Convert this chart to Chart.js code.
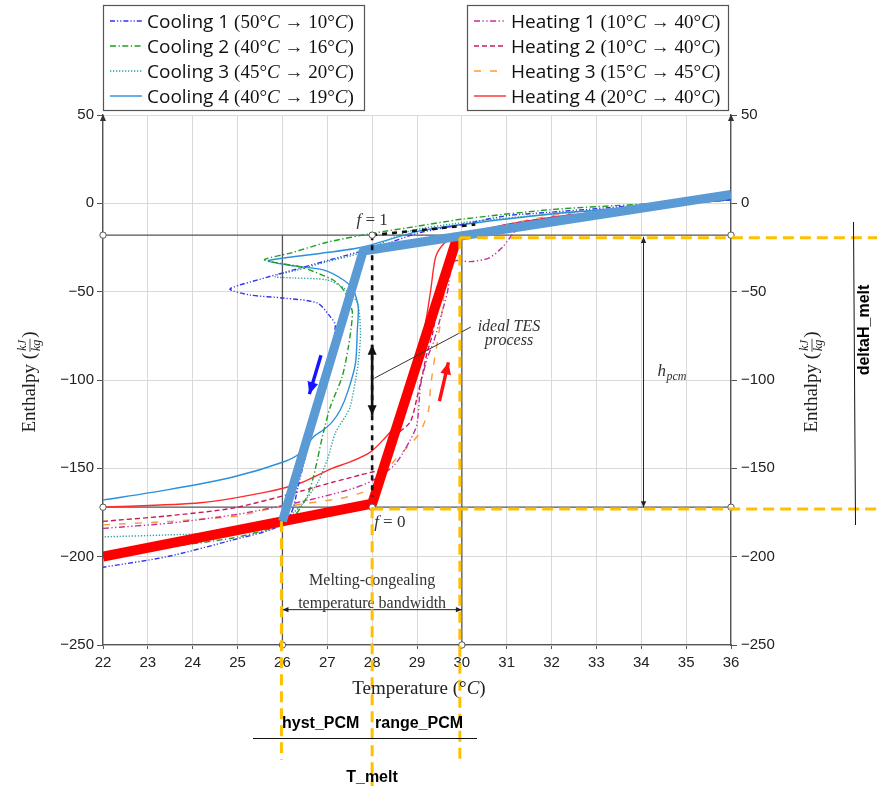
<!DOCTYPE html>
<html>
<head>
<meta charset="utf-8">
<script src="https://cdn.jsdelivr.net/npm/chart.js@4.4.1/dist/chart.umd.min.js"></script>
<style>
html, body { margin: 0; padding: 0; background: #fff; }
#wrap { width: 877px; height: 786px; }
</style>
</head>
<body>
<div id="wrap"><canvas id="chart"></canvas></div>
<script>
// axis ticks
const xTicks = [22, 23, 24, 25, 26, 27, 28, 29, 30, 31, 32, 33, 34, 35, 36];
const yTicks = [50, 0, -50, -100, -150, -200, -250];

// measured cooling runs (temperature, enthalpy)
const cooling1T = [36, 35, 34, 33, 32, 31, 30, 29, 28.2, 27.7, 26.4, 25.5, 24.83, 25.28, 26.02, 26.78, 27.07, 27.18, 27.0, 26.65, 26.35, 26.2, 25.84, 24.9, 23.43, 22];
const cooling1H = [2, 0.5, -1, -3, -5, -7, -12, -17, -24, -27.5, -36.6, -43, -48.5, -51.9, -53.6, -56.4, -64.3, -69, -100, -130, -160, -175, -183.7, -190.5, -200, -206];
const cooling2T = [36, 34, 32, 30, 29, 28, 27, 26.2, 25.6, 26.4, 27.13, 27.36, 27.47, 27.56, 27.47, 27.33, 27.07, 26.91, 26.69, 26.55, 26.3, 26.1, 25.8, 24.9, 23.43, 22];
const cooling2H = [2.5, -0.5, -3.5, -9, -13, -17, -22, -28, -32, -36, -43.4, -49, -54.7, -62, -81.3, -98.3, -115, -130, -155, -166, -176, -181, -183.7, -189.4, -194.5, -198];
const cooling3T = [36, 34, 32, 30, 28.8, 27.74, 27.0, 26.3, 25.88, 25.84, 26.24, 27.0, 27.36, 27.67, 27.74, 27.69, 27.63, 27.51, 27.42, 27.18, 27.0, 26.78, 26.46, 26.24, 25.95, 24.9, 23.43, 22];
const cooling3H = [2, -2, -6, -11, -16, -28, -33, -38, -40.5, -41.7, -42.2, -43.4, -47.9, -56.4, -73.4, -90.3, -100, -115.3, -119.8, -130, -145.2, -158.3, -169.6, -175.2, -180.3, -186, -187.7, -188.8];
const cooling4T = [36, 34, 32, 30, 29, 27.8, 26.8, 26.0, 25.68, 26.11, 26.91, 27.36, 27.58, 27.69, 27.67, 27.63, 27.47, 27.29, 27.1, 26.91, 26.69, 26.4, 26.02, 24.9, 23.43, 22];
const cooling4H = [2, -2, -6, -12, -16, -24.7, -28.5, -31, -32.6, -34.9, -37.7, -43.4, -49, -58.7, -71.7, -90.3, -105.6, -117, -124, -128.3, -132.2, -141.3, -146.4, -154.9, -162.2, -168];

// measured heating runs
const heating1T = [22, 23.5, 25, 26.4, 27.5, 28, 28.5, 28.85, 29.0, 29.08, 29.23, 29.37, 29.52, 29.68, 29.81, 30.2, 30.6, 30.9, 31.3, 32, 33, 34, 35, 36];
const heating1H = [-184, -181, -176, -169, -162, -157, -148, -134, -125, -103, -87.5, -78.5, -65, -50, -33, -33, -31, -25, -13, -8, -5, -2, 0, 2];
const heating2T = [22, 23.4, 24.9, 26.4, 27.1, 27.74, 28.3, 28.47, 28.85, 29.0, 29.12, 29.23, 29.34, 29.59, 29.75, 29.9, 30.5, 31, 32, 33, 34, 36];
const heating2H = [-180, -177, -172.5, -163, -158, -153.7, -149, -133, -123.7, -110, -97, -84, -74.5, -40.5, -27.5, -22, -16, -12, -8, -5, -2, 2];
const heating3T = [22, 23.5, 25, 25.7, 26.5, 27.3, 27.74, 28.0, 28.52, 29.03, 29.25, 29.3, 29.37, 29.48, 29.57, 29.63, 29.75, 29.86, 30.3, 31, 32, 33, 34, 36];
const heating3H = [-182, -180, -177, -173, -170, -167, -164, -161, -145, -131, -118, -104.5, -91.5, -74.5, -59.2, -44.5, -31, -23.6, -17, -12, -7, -4, -2, 2];
const heating4T = [22, 24.17, 25.66, 26.4, 27.13, 27.51, 27.96, 28.26, 28.47, 28.7, 28.92, 29.14, 29.3, 29.41, 29.57, 29.79, 29.97, 31, 32, 33, 34, 35, 36];
const heating4H = [-172, -169.5, -163.3, -158.3, -149.8, -146.4, -140.8, -133.5, -127.1, -114.1, -95.4, -74.5, -50.2, -30.9, -23.6, -19.6, -17.9, -12, -8, -5, -2, 0, 2];

// idealised model (thick lines)
const modelCoolT = [26, 27.8, 36];
const modelCoolH = [-180, -27, 5];
const modelHeatT = [22, 28, 29.9];
const modelHeatH = [-200, -170, -19];

// reference levels
const hTop = -18;      // f = 1
const hBot = -172;     // f = 0
const tHyst = 26, tMelt = 28, tRange = 30;

const pts = (T, H) => T.map((t, i) => ({ x: t, y: H[i] }));

const curves = [
  { label: 'Cooling 1', from: '50', to: '10', data: pts(cooling1T, cooling1H), color: '#3434ee', dash: [5, 2, 1.2, 2, 1.2, 2] },
  { label: 'Cooling 2', from: '40', to: '16', data: pts(cooling2T, cooling2H), color: '#1f9e1f', dash: [6, 2.5, 1.3, 2.5] },
  { label: 'Cooling 3', from: '45', to: '20', data: pts(cooling3T, cooling3H), color: '#2f9f9f', dash: [1.3, 1.7] },
  { label: 'Cooling 4', from: '40', to: '19', data: pts(cooling4T, cooling4H), color: '#2b90dc', dash: [] },
  { label: 'Heating 1', from: '10', to: '40', data: pts(heating1T, heating1H), color: '#c0309a', dash: [6, 2.5, 1.3, 2.5, 1.3, 2.5] },
  { label: 'Heating 2', from: '10', to: '40', data: pts(heating2T, heating2H), color: '#c81a58', dash: [5, 3] },
  { label: 'Heating 3', from: '15', to: '45', data: pts(heating3T, heating3H), color: '#ff9a38', dash: [7, 9] },
  { label: 'Heating 4', from: '20', to: '40', data: pts(heating4T, heating4H), color: '#ff2a2a', dash: [] }
];

const SERIF = '"Liberation Serif", serif';
const SANS = '"Liberation Sans", Arial, sans-serif';
const LEGSANS = '"Open Sans", sans-serif';

function drawRuns(ctx, x, y, parts) {
  parts.forEach(([t, f]) => { ctx.font = f; ctx.fillText(t, x, y); x += ctx.measureText(t).width; });
  return x;
}
function runsWidth(ctx, parts) {
  let w = 0;
  parts.forEach(([t, f]) => { ctx.font = f; w += ctx.measureText(t).width; });
  return w;
}
function seg(ctx, x1, y1, x2, y2) {
  ctx.beginPath(); ctx.moveTo(x1, y1); ctx.lineTo(x2, y2); ctx.stroke();
}
function tip(ctx, x1, y1, x2, y2, s, w) {
  const a = Math.atan2(y2 - y1, x2 - x1), c = Math.cos(a), n = Math.sin(a);
  w = w || s * 0.45;
  ctx.beginPath();
  ctx.moveTo(x2, y2);
  ctx.lineTo(x2 - s * c + w * n, y2 - s * n - w * c);
  ctx.lineTo(x2 - s * c - w * n, y2 - s * n + w * c);
  ctx.closePath(); ctx.fill();
}
function arrow(ctx, x1, y1, x2, y2, s, both) {
  seg(ctx, x1, y1, x2, y2);
  tip(ctx, x1, y1, x2, y2, s);
  if (both) tip(ctx, x2, y2, x1, y1, s);
}
function ring(ctx, x, y) {
  ctx.beginPath(); ctx.arc(x, y, 3.2, 0, Math.PI * 2); ctx.fillStyle = '#fff'; ctx.fill(); ctx.stroke();
}
function enthalpyTitle(ctx, cx, cy) {
  const main = '19px ' + SERIF, frac = 'italic 12px ' + SERIF;
  ctx.save();
  ctx.translate(cx, cy);
  ctx.rotate(-Math.PI / 2);
  ctx.fillStyle = '#222';
  ctx.textBaseline = 'middle';
  ctx.font = main;
  const w1 = ctx.measureText('Enthalpy (').width;
  const wf = 15, w2 = ctx.measureText(')').width;
  let x = -(w1 + wf + w2) / 2;
  ctx.fillText('Enthalpy (', x, 1);
  x += w1;
  ctx.font = frac;
  ctx.textAlign = 'center';
  ctx.fillText('kJ', x + wf / 2, -6);
  ctx.fillText('kg', x + wf / 2, 8);
  ctx.strokeStyle = '#222'; ctx.lineWidth = 0.8;
  seg(ctx, x + 1, 1, x + wf - 1, 1);
  ctx.textAlign = 'left';
  ctx.font = main;
  ctx.fillText(')', x + wf, 1);
  ctx.restore();
}

const annot = {
  id: 'annot',
  beforeDatasetsDraw(chart) {
    const { ctx, scales: { x, y } } = chart;
    const X = v => x.getPixelForValue(v), Y = v => y.getPixelForValue(v);
    ctx.save();
    ctx.strokeStyle = '#555'; ctx.lineWidth = 1.3;
    seg(ctx, X(22), Y(hTop), X(36), Y(hTop));
    seg(ctx, X(22), Y(hBot), X(36), Y(hBot));
    seg(ctx, X(tHyst), Y(hTop), X(tHyst), Y(-250));
    seg(ctx, X(tRange), Y(hTop), X(tRange), Y(-250));
    ctx.restore();
  },
  afterDatasetsDraw(chart) {
    const { ctx, scales: { x, y } } = chart;
    const X = v => x.getPixelForValue(v), Y = v => y.getPixelForValue(v);
    ctx.save();
    // ideal TES path (dashed)
    ctx.strokeStyle = '#111'; ctx.lineWidth = 2.6; ctx.setLineDash([5, 5]);
    seg(ctx, X(tMelt), Y(hTop), X(tMelt), Y(hBot + 6));
    seg(ctx, X(tMelt), Y(hTop), X(30.3), Y(-12));
    ctx.setLineDash([]);
    ctx.fillStyle = '#111';
    arrow(ctx, X(tMelt), Y(-80), X(tMelt), Y(-120), 10, true);

    // small circles
    ctx.strokeStyle = '#555'; ctx.lineWidth = 1;
    [[22, hTop], [36, hTop], [22, hBot], [36, hBot], [tHyst, -250], [tRange, -250], [tMelt, hTop], [tMelt, hBot]]
      .forEach(([t, h]) => ring(ctx, X(t), Y(h)));

    // leader for "ideal TES process"
    ctx.strokeStyle = '#333'; ctx.lineWidth = 1;
    seg(ctx, X(30.2), Y(-70), X(28.05), Y(-99));

    // direction arrows
    ctx.lineWidth = 3.4;
    ctx.strokeStyle = ctx.fillStyle = '#1515ff';
    arrow(ctx, X(26.86), Y(-86), X(26.6), Y(-108), 12);
    ctx.strokeStyle = ctx.fillStyle = '#ff1010';
    arrow(ctx, X(29.5), Y(-112), X(29.7), Y(-90), 12);

    // h_pcm and bandwidth arrows
    ctx.strokeStyle = ctx.fillStyle = '#222'; ctx.lineWidth = 1;
    arrow(ctx, X(34.05), Y(hTop - 1), X(34.05), Y(hBot), 6, true);
    arrow(ctx, X(tHyst), Y(-230), X(tRange), Y(-230), 6, true);

    // labels
    ctx.fillStyle = '#333';
    ctx.textBaseline = 'alphabetic';
    const f1 = [['f', 'italic 17px ' + SERIF], [' = 1', '17px ' + SERIF]];
    drawRuns(ctx, X(tMelt) - runsWidth(ctx, f1) / 2, Y(hTop) - 10, f1);
    const f0 = [['f', 'italic 17px ' + SERIF], [' = 0', '17px ' + SERIF]];
    drawRuns(ctx, X(tMelt) + 2, Y(hBot) + 20, f0);
    ctx.textAlign = 'center';
    ctx.font = 'italic 16px ' + SERIF;
    ctx.fillText('ideal TES', X(31.05), Y(-70) + 4);
    ctx.fillText('process', X(31.05), Y(-78) + 4);
    ctx.font = '16px ' + SERIF;
    ctx.fillText('Melting-congealing', X(28), Y(-213) + 5);
    ctx.fillText('temperature bandwidth', X(28), Y(-227) + 4);
    ctx.textAlign = 'left';
    const hx = X(34.05) + 14, hy = Y(-95) + 5;
    ctx.font = 'italic 17px ' + SERIF; ctx.fillText('h', hx, hy);
    ctx.font = 'italic 12px ' + SERIF; ctx.fillText('pcm', hx + 9, hy + 4);

    // yellow model parameter guides
    ctx.strokeStyle = '#ffc000'; ctx.lineWidth = 3; ctx.setLineDash([11, 6]);
    seg(ctx, X(tHyst) - 1, Y(-180), X(tHyst) - 1, 760);
    seg(ctx, X(tMelt), Y(hBot), X(tMelt), 786);
    seg(ctx, X(tRange) - 2, Y(hTop - 1.5), X(tRange) - 2, 760);
    seg(ctx, X(tRange) - 2, Y(hTop - 1.5), 877, Y(hTop - 1.5));
    seg(ctx, X(tMelt), Y(hBot - 1), 877, Y(hBot - 1));
    ctx.setLineDash([]);
    ctx.restore();
  },
  afterDraw(chart) {
    const { ctx, chartArea: ca } = chart;
    ctx.save();
    // axis arrow heads
    ctx.fillStyle = '#333';
    tip(ctx, ca.left, ca.top + 10, ca.left, ca.top - 1, 7, 3);
    tip(ctx, ca.right, ca.top + 10, ca.right, ca.top - 1, 7, 3);

    // axis titles
    ctx.fillStyle = '#222';
    const xt = [['Temperature (°', '19px ' + SERIF], ['C', 'italic 19px ' + SERIF], [')', '19px ' + SERIF]];
    drawRuns(ctx, (ca.left + ca.right) / 2 - runsWidth(ctx, xt) / 2 + 2, 694, xt);
    enthalpyTitle(ctx, 29, 382);
    enthalpyTitle(ctx, 811, 382);

    // legends
    const boxes = [{ x: 103, items: curves.slice(0, 4) }, { x: 467, items: curves.slice(4) }];
    boxes.forEach(b => {
      ctx.strokeStyle = '#555'; ctx.lineWidth = 1.2; ctx.setLineDash([]);
      ctx.strokeRect(b.x + 0.5, 5.5, 261, 105);
      b.items.forEach((c, i) => {
        const yy = 21 + i * 25;
        ctx.strokeStyle = c.color; ctx.lineWidth = 1.4; ctx.setLineDash(c.dash);
        seg(ctx, b.x + 7, yy, b.x + 39, yy);
        ctx.setLineDash([]);
        ctx.fillStyle = '#111';
        drawRuns(ctx, b.x + 44, yy + 7, [
          [c.label + ' ', '19px ' + LEGSANS],
          ['(' + c.from + '°', '19px ' + SERIF], ['C', 'italic 19px ' + SERIF],
          [' → ' + c.to + '°', '19px ' + SERIF], ['C', 'italic 19px ' + SERIF], [')', '19px ' + SERIF]
        ]);
      });
    });

    // model parameter labels
    ctx.fillStyle = '#000';
    ctx.font = 'bold 16px ' + SANS;
    ctx.fillText('hyst_PCM', 282, 728);
    ctx.fillText('range_PCM', 375, 728);
    ctx.textAlign = 'center';
    ctx.fillText('T_melt', 372, 782);
    ctx.strokeStyle = '#111'; ctx.lineWidth = 1;
    seg(ctx, 253, 738.5, 477, 738.5);
    seg(ctx, 853.5, 222, 855.5, 525);
    ctx.translate(869, 330);
    ctx.rotate(-Math.PI / 2);
    ctx.textAlign = 'center';
    ctx.fillText('deltaH_melt', 0, 0);
    ctx.restore();
  }
};

const gridColor = '#d9d9d9';
const axisColor = '#555';
const tickFont = { family: SANS, size: 15 };
const fmt = v => String(v).replace('-', '\u2212');

new Chart(document.getElementById('chart'), {
  type: 'scatter',
  data: {
    datasets: [
      { label: 'model cooling', data: pts(modelCoolT, modelCoolH), borderColor: '#5b9bd5', borderWidth: 9, order: 0 },
      { label: 'model heating', data: pts(modelHeatT, modelHeatH), borderColor: '#ff0000', borderWidth: 10, order: 0 },
      ...curves.map(c => ({
        label: c.label, data: c.data, borderColor: c.color, borderDash: c.dash,
        borderWidth: 1.4, tension: 0.25, order: 1
      }))
    ].map(d => Object.assign({ showLine: true, pointRadius: 0, fill: false, borderJoinStyle: 'round' }, d))
  },
  options: {
    responsive: true,
    maintainAspectRatio: false,
    animation: false,
    layout: { padding: { top: 115, left: 0, right: 0, bottom: 0 } },
    plugins: { legend: { display: false }, tooltip: { enabled: false } },
    scales: {
      x: {
        type: 'linear', min: 22, max: 36,
        afterBuildTicks: s => { s.ticks = xTicks.map(v => ({ value: v })); },
        afterFit: s => { s.height = 141; },
        grid: { color: gridColor, tickLength: 4, tickColor: axisColor },
        border: { color: axisColor, width: 1.3 },
        ticks: { font: tickFont, color: '#222', padding: 5, maxRotation: 0 }
      },
      y: {
        type: 'linear', position: 'left', min: -250, max: 50,
        afterBuildTicks: s => { s.ticks = yTicks.map(v => ({ value: v })); },
        afterFit: s => { s.width = 103; },
        grid: { color: gridColor, tickLength: 6, tickColor: axisColor },
        border: { color: axisColor, width: 1.3 },
        ticks: { font: tickFont, color: '#222', padding: 3, callback: fmt }
      },
      y2: {
        type: 'linear', position: 'right', min: -250, max: 50,
        afterBuildTicks: s => { s.ticks = yTicks.map(v => ({ value: v })); },
        afterFit: s => { s.width = 146; },
        grid: { drawOnChartArea: false, tickLength: 6, color: axisColor },
        border: { color: axisColor, width: 1.3 },
        ticks: { font: tickFont, color: '#222', padding: 4, callback: fmt }
      }
    }
  },
  plugins: [annot]
});
</script>
</body>
</html>
